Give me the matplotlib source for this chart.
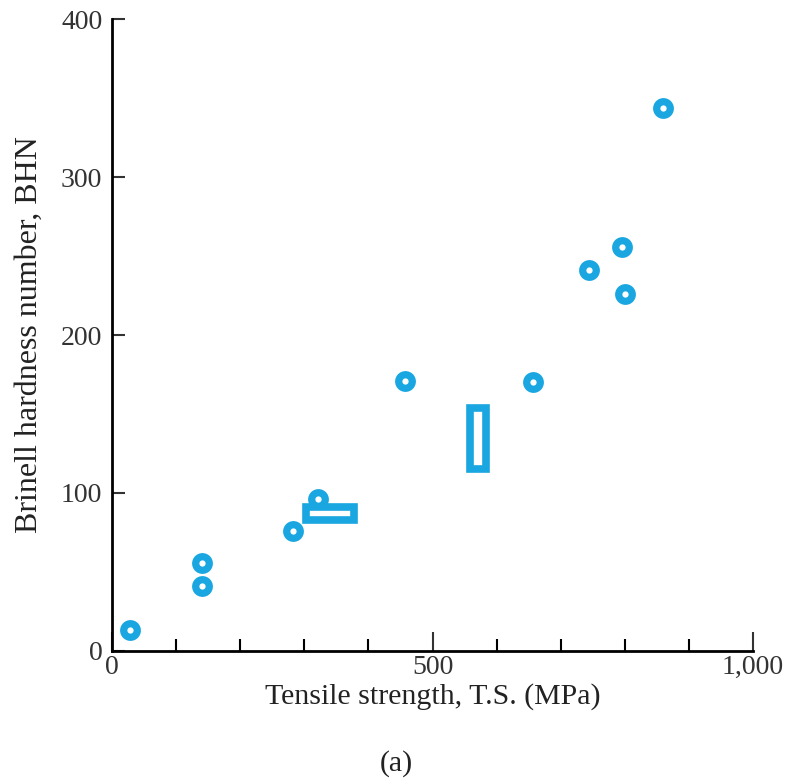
import matplotlib.pyplot as plt
from matplotlib.patches import Rectangle
from matplotlib.ticker import MultipleLocator, FuncFormatter

# point measurements (tensile strength MPa, BHN)
ts_points = [28, 140, 140, 282, 321, 457, 657, 744, 796, 800, 860]
bhn_points = [13, 56, 41, 76, 96, 171, 170, 241, 256, 226, 344]

# ranges drawn as boxes: (ts_min, ts_max, bhn_min, bhn_max)
ts_ranges = [(302, 377), (558, 584)]
bhn_ranges = [(83, 91), (115, 154)]

blue = '#1aa7e1'

plt.rcParams['font.family'] = ['Liberation Serif', 'DejaVu Serif']

fig = plt.figure(figsize=(7.92, 7.80), dpi=100)
ax = fig.add_axes([0.1414, 0.1654, 0.8094, 0.8102])

for (x0, x1), (y0, y1) in zip(ts_ranges, bhn_ranges):
    ax.add_patch(Rectangle((x0, y0), x1 - x0, y1 - y0, fill=False,
                           edgecolor=blue, linewidth=5.5, zorder=2))

ax.plot(ts_points, bhn_points, 'o', color=blue, markersize=15,
        markeredgewidth=0, zorder=3)
ax.plot(ts_points, bhn_points, 'o', color='white', markersize=4.5,
        markeredgewidth=0, zorder=4)

ax.set_xlim(0, 1000)
ax.set_ylim(0, 400)
ax.spines['top'].set_visible(False)
ax.spines['right'].set_visible(False)
ax.spines['left'].set_linewidth(2)
ax.spines['bottom'].set_linewidth(2)

ax.xaxis.set_major_locator(MultipleLocator(500))
ax.xaxis.set_minor_locator(MultipleLocator(100))
ax.xaxis.set_major_formatter(FuncFormatter(lambda v, p: f'{int(v):,}'))
ax.yaxis.set_major_locator(MultipleLocator(100))

ax.tick_params(axis='x', which='major', direction='in', length=14, width=1.5,
               labelsize=20, pad=3, colors='#333333')
ax.tick_params(axis='x', which='minor', direction='in', length=9, width=1.5)
ax.tick_params(axis='y', which='major', direction='in', length=9, width=1.5,
               labelsize=20, pad=7, colors='#333333')

ax.set_xlabel('Tensile strength, T.S. (MPa)', fontsize=21.5, labelpad=2,
              color='#222222')
ax.set_ylabel('Brinell hardness number, BHN', fontsize=23, labelpad=12,
              color='#222222')
fig.text(0.5, 0.012, '(a)', ha='center', fontsize=21.5, color='#222222')

fig.savefig('out.png', dpi=100)
